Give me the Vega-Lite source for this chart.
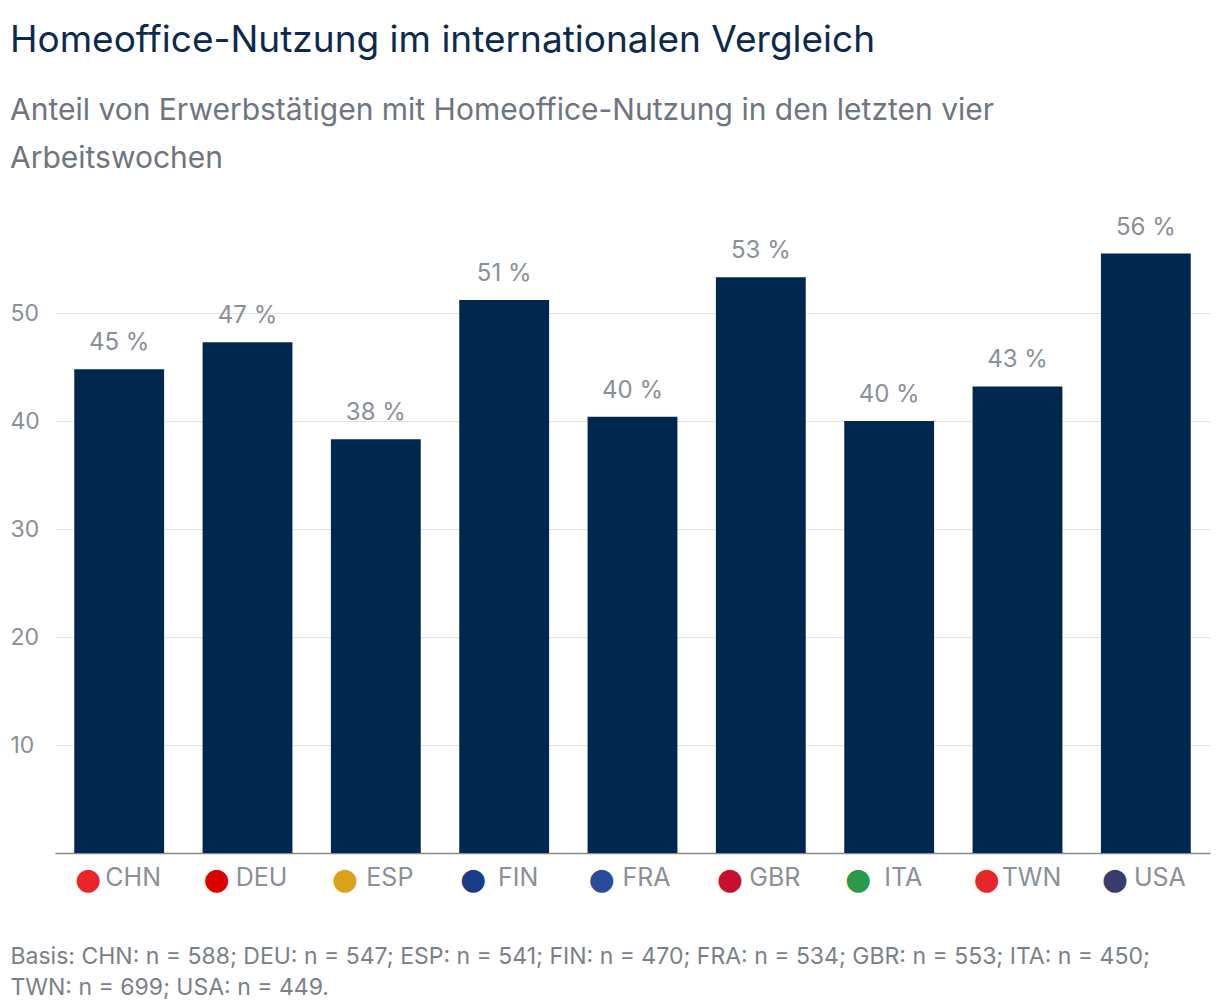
{
  "$schema": "https://vega.github.io/schema/vega-lite/v6.json",
  "width": 1155,
  "height": 648,
  "padding": {"left": 10, "top": 22, "right": 10, "bottom": 10},
  "background": "white",
  "config": {"view": {"stroke": null}, "font": "Inter"},
  "title": {
    "text": "Homeoffice-Nutzung im internationalen Vergleich",
    "subtitle": ["Anteil von Erwerbstätigen mit Homeoffice-Nutzung in den letzten vier", "Arbeitswochen"],
    "anchor": "start",
    "frame": "group",
    "dx": -45,
    "fontSize": 37,
    "fontWeight": "normal",
    "color": "#0d2a4e",
    "subtitleFontSize": 30,
    "subtitleColor": "#6e7580",
    "subtitlePadding": 36,
    "subtitleLineHeight": 48,
    "offset": 30
  },
  "data": {
    "values": [
      {"land": "CHN", "wert": 44.8, "label": "45 %", "flag": "#e8262a"},
      {"land": "DEU", "wert": 47.3, "label": "47 %", "flag": "#dd0000"},
      {"land": "ESP", "wert": 38.3, "label": "38 %", "flag": "#d8a21b"},
      {"land": "FIN", "wert": 51.2, "label": "51 %", "flag": "#1a3c86"},
      {"land": "FRA", "wert": 40.4, "label": "40 %", "flag": "#2a4a9a"},
      {"land": "GBR", "wert": 53.3, "label": "53 %", "flag": "#c8102e"},
      {"land": "ITA", "wert": 40.0, "label": "40 %", "flag": "#2a9a48"},
      {"land": "TWN", "wert": 43.2, "label": "43 %", "flag": "#e8262a"},
      {"land": "USA", "wert": 55.5, "label": "56 %", "flag": "#3c3b6e"}
    ]
  },
  "encoding": {
    "x": {
      "field": "land",
      "type": "nominal",
      "sort": null,
      "scale": {"paddingInner": 0.3, "paddingOuter": 0.15},
      "axis": {
        "title": ["Basis: CHN: n = 588; DEU: n = 547; ESP: n = 541; FIN: n = 470; FRA: n = 534; GBR: n = 553; ITA: n = 450;", "TWN: n = 699; USA: n = 449."],
        "titleAnchor": "start",
        "titleAlign": "left",
        "titleX": -45,
        "titlePadding": 55,
        "titleFontSize": 23,
        "titleFontWeight": "normal",
        "titleColor": "#7a808a",
        "titleLineHeight": 31,
        "labelAngle": 0,
        "labelFontSize": 25,
        "labelColor": "#8a8f98",
        "labelPadding": 12,
        "labelOffset": 14,
        "ticks": false,
        "domainColor": "#888888",
        "domainWidth": 1.5
      }
    }
  },
  "layer": [
    {
      "mark": {"type": "bar", "color": "#00284f"},
      "encoding": {
        "y": {
          "field": "wert",
          "type": "quantitative",
          "scale": {"domain": [0, 60]},
          "axis": {
            "title": null,
            "values": [10, 20, 30, 40, 50],
            "domain": false,
            "ticks": false,
            "labelFontSize": 23,
            "labelColor": "#8a8f98",
            "labelAlign": "left",
            "labelPadding": 45,
            "labelBaseline": "middle",
            "gridColor": "#e3e3e3"
          }
        }
      }
    },
    {
      "mark": {"type": "text", "dy": -26, "fontSize": 24, "color": "#8a8f98"},
      "encoding": {
        "y": {"field": "wert", "type": "quantitative"},
        "text": {"field": "label"}
      }
    },
    {
      "mark": {"type": "text", "text": "●", "fontSize": 30, "dx": -31, "dy": 27, "font": "DejaVu Sans"},
      "encoding": {
        "y": {"datum": 0, "type": "quantitative"},
        "color": {"field": "flag", "type": "nominal", "scale": null}
      }
    }
  ]
}
